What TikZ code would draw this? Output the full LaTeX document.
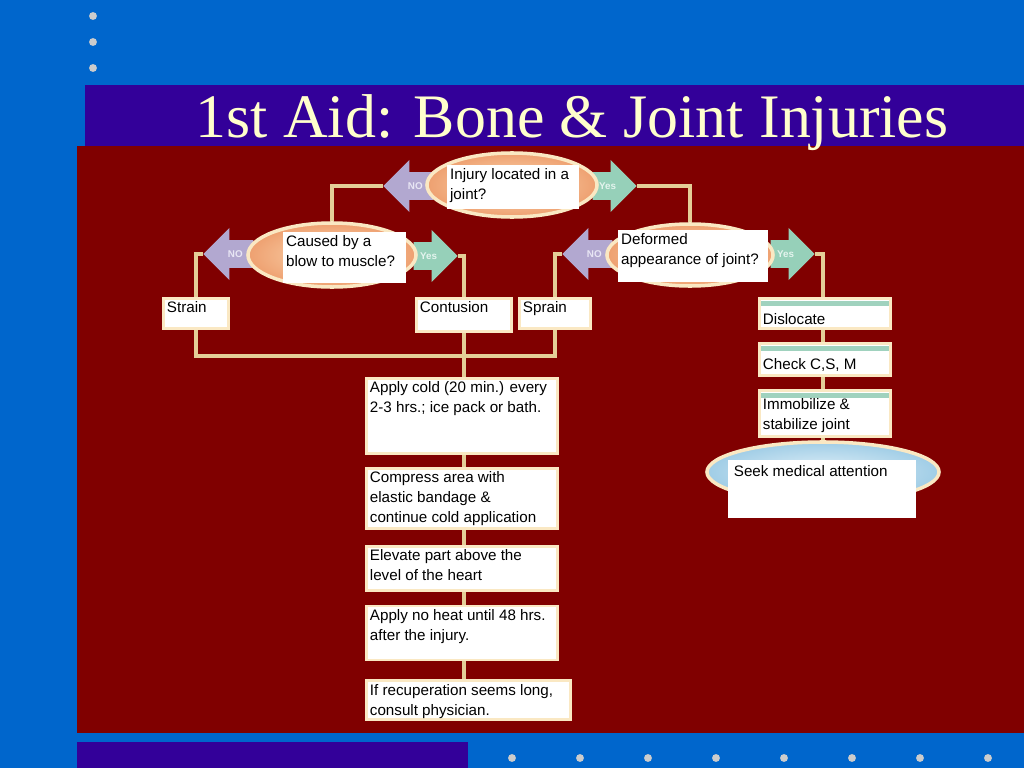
\documentclass[tikz,border=0pt]{standalone}
\usepackage{fontspec}
\setmainfont{Liberation Serif}
\newfontfamily\boxfont{Liberation Sans}
\usepackage{tikz}
\usetikzlibrary{positioning,shapes.geometric,shapes.arrows,calc}
\definecolor{slideblue}{RGB}{0,102,204}
\definecolor{titleband}{RGB}{51,0,153}
\definecolor{titletext}{RGB}{255,255,204}
\definecolor{panelred}{RGB}{128,0,0}
\definecolor{bulletgray}{RGB}{204,204,204}
\definecolor{wirecream}{RGB}{228,206,152}
\definecolor{framecream}{RGB}{250,232,195}
\definecolor{peach}{RGB}{238,160,112}
\definecolor{peachlight}{RGB}{252,218,180}
\definecolor{nolav}{RGB}{178,168,208}
\definecolor{nolavtext}{RGB}{232,230,244}
\definecolor{yesmint}{RGB}{150,208,185}
\definecolor{yesminttext}{RGB}{228,244,238}
\definecolor{stripeteal}{RGB}{160,210,190}
\definecolor{seekblue}{RGB}{160,205,230}
\definecolor{seeklight}{RGB}{225,240,248}
\newlength{\pxu}\setlength{\pxu}{0.025cm}
\newcommand{\boxtxt}[4][t]{\parbox[t][#3\pxu][#1]{#2\pxu}{\raggedright #4}}
\pgfdeclarelayer{back}
\pgfdeclarelayer{wires}
\pgfsetlayers{back,wires,main}
\tikzset{
  link/.style={draw=wirecream,line width=2.6pt},
  stepbox/.style={rectangle,fill=white,draw=framecream,line width=2pt,inner sep=2.5pt,anchor=north west,font=\boxfont\fontsize{10.8}{14.2}\selectfont},
  jointbox/.style={stepbox,path picture={\fill[stripeteal] ([yshift=-2pt]path picture bounding box.north west) rectangle ([yshift=-5.5pt]path picture bounding box.north east);}},
  question/.style={rectangle,fill=white,inner sep=2pt,anchor=north west,font=\boxfont\fontsize{10.8}{14.2}\selectfont},
  choice/.style={ellipse,draw=framecream,line width=2.5pt,inner color=peachlight,outer color=peach,minimum width=4.2cm,minimum height=1.6cm},
  seekoval/.style={ellipse,draw=framecream,line width=2.5pt,inner color=seeklight,outer color=seekblue,minimum width=5.8cm,minimum height=1.5cm},
  noarrow/.style={single arrow,shape border rotate=180,fill=nolav,text=nolavtext,anchor=tip,minimum height=1.25cm,minimum width=1.3cm,single arrow head extend=0.3cm,inner ysep=7pt,inner xsep=1pt,font=\boxfont\bfseries\fontsize{7}{7}\selectfont},
  yesarrow/.style={noarrow,shape border rotate=0,fill=yesmint,text=yesminttext,minimum height=1.1cm}
}

\begin{document}
\begin{tikzpicture}[x=0.025cm,y=-0.025cm]
  \useasboundingbox (0,0) rectangle (1024,768);
  \begin{pgfonlayer}{back}
    \fill[slideblue] (0,0) rectangle (1024,768);
    \fill[titleband] (85,85) rectangle (1024,146);
    \fill[panelred] (77,146) rectangle (1024,733);
    \fill[titleband] (77,742) rectangle (468,768);
    \foreach \y in {16,42,68} \fill[bulletgray] (93,\y) circle (2.8pt);
    \foreach \x in {512,580,...,988} \fill[bulletgray] (\x,758) circle (2.8pt);
  \end{pgfonlayer}

  \node[anchor=base,text=titletext,font=\fontsize{44}{44}\selectfont] (title) at (572,138) {1st Aid: Bone \& Joint Injuries};

  % joint?
  \node[noarrow] (no1) at (383,186) {NO};
  \node[yesarrow] (yes1) at (637,186) {Yes};
  \node[choice,minimum width=4.25cm] (dec1) at (512,185) {};
  \node[question] (q1) at (447,165) {\boxtxt{126}{38}{Injury located in a\\joint?}};

  % blow to muscle?
  \node[noarrow] (no2) at (203,254) {NO};
  \node[yesarrow] (yes2) at (458,256) {Yes};
  \node[choice] (dec2) at (332,255) {};
  \node[question] (q2) at (283,232) {\boxtxt{117}{45}{Caused by a\\blow to muscle?}};

  % deformed?
  \node[noarrow] (no3) at (562,254) {NO};
  \node[yesarrow] (yes3) at (815,254) {Yes};
  \node[choice,minimum width=4.15cm,minimum height=1.55cm] (dec3) at (690,255) {};
  \node[question] (q3) at (618,230) {\boxtxt{144}{46}{Deformed\\appearance of joint?}};

  % left side
  \node[stepbox] (strain) at (162,297) {\boxtxt{58}{23}{Strain}};
  \node[stepbox] (contusion) at (415,297) {\boxtxt{88}{26}{Contusion}};
  \node[stepbox] (sprain) at (518,297) {\boxtxt{64}{23}{Sprain}};
  \coordinate (hub) at (464,356);
  \node[stepbox] (cold) at (365,377) {\boxtxt{184}{68}{Apply cold (20 min.) every\\2-3 hrs.; ice pack or bath.}};
  \node[stepbox,below=0.3cm of cold] (compress) {\boxtxt{184}{53}{Compress area with\\elastic bandage \&\\continue cold application}};
  \node[stepbox,below=0.375cm of compress] (elevate) {\boxtxt{184}{37}{Elevate part above the\\level of the heart}};
  \node[stepbox,below=0.325cm of elevate] (noheat) {\boxtxt{184}{47}{Apply no heat until 48 hrs.\\after the injury.}};
  \node[stepbox,below=0.45cm of noheat.south west,anchor=north west] (recup) {\boxtxt{197}{32}{If recuperation seems long,\\consult physician.}};

  % right side
  \node[jointbox] (disloc) at (758,297) {\boxtxt[b]{124}{23}{Dislocate}};
  \node[jointbox,below=0.3cm of disloc] (check) {\boxtxt[b]{124}{23}{Check C,S, M}};
  \node[jointbox,below=0.3cm of check] (immob) {\boxtxt[b]{124}{36}{Immobilize \&\\stabilize joint}};
  \node[seekoval] (seek) at (823,472) {};
  \node[question,inner sep=4pt] (seektext) at (728,460) {\boxtxt{176}{46}{Seek medical attention}};

  \begin{pgfonlayer}{wires}
    \draw[link] (no1.tip) -| (dec2.north);
    \draw[link] (yes1.tip) -| (dec3.north);
    \draw[link] (no2.tip) -| (strain.north);
    \draw[link] (yes2.tip) -| (contusion.north);
    \draw[link] (no3.tip) -| (sprain.north);
    \draw[link] (yes3.tip) -| (seek.north);
    \draw[link] (strain.south) |- (hub) -| (sprain.south);
    \draw[link] (contusion.south) -- (contusion.south |- recup.north);
  \end{pgfonlayer}
\end{tikzpicture}
\end{document}
